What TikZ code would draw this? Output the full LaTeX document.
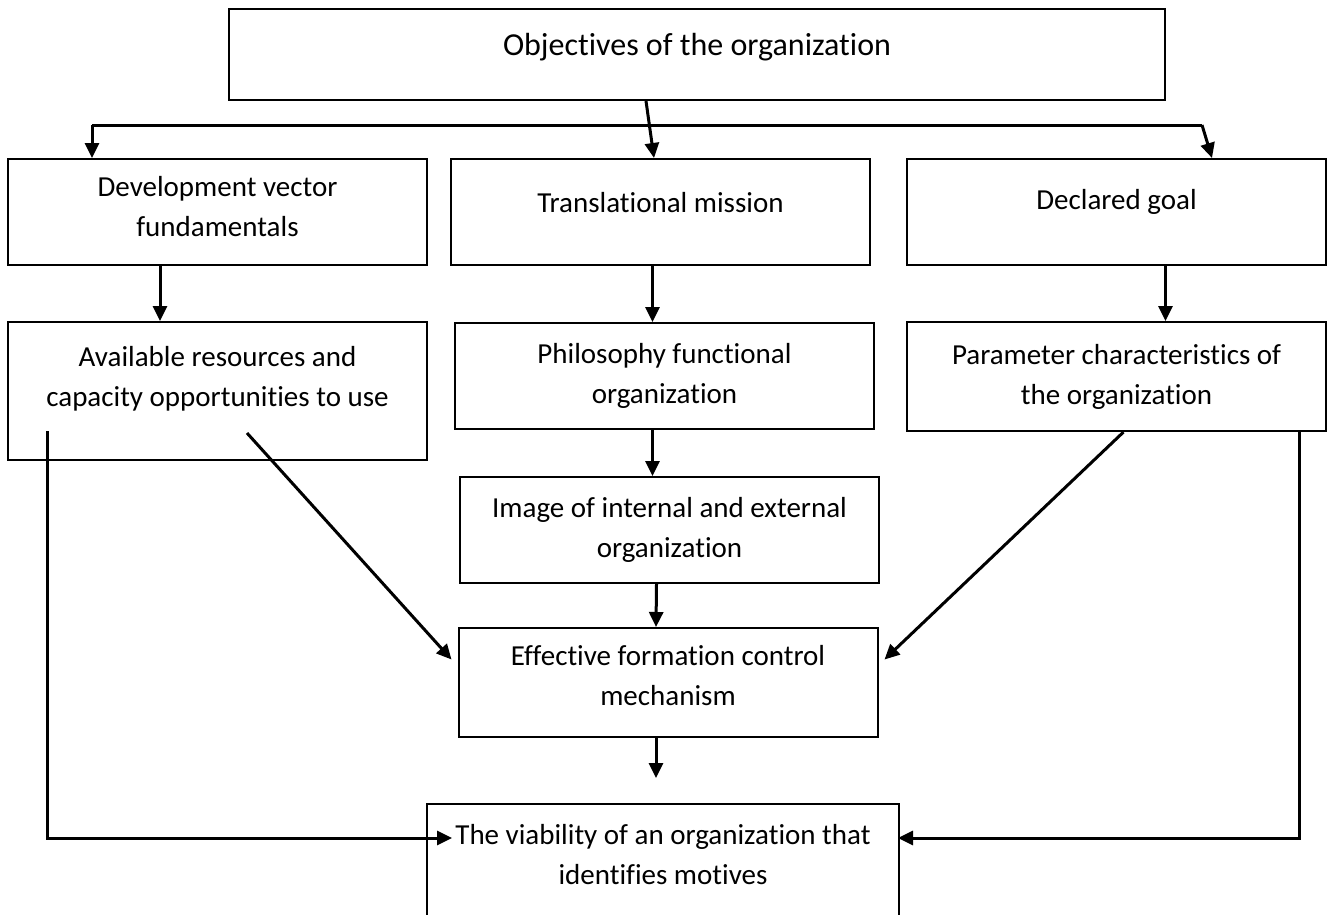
\documentclass[tikz,border=0pt]{standalone}
\usepackage{fontspec}
\setmainfont{Carlito}[Ligatures=NoCommon]
\usetikzlibrary{arrows.meta, calc, positioning}

\begin{document}
\begin{tikzpicture}[x=1pt, y=-1pt, >={Triangle[length=15pt,width=14pt]},
  box/.style={draw, line width=2pt, align=center, inner sep=0pt,
    minimum width=419pt, minimum height=106pt, font=\fontsize{29}{40}\selectfont},
  link/.style={->, line width=3pt}]
\useasboundingbox (0,0) rectangle (1330,914);

\node[box, minimum width=936pt, minimum height=91pt, text depth=20pt, font=\fontsize{32}{40}\selectfont] (obj) at (697,54.5) {Objectives of the organization};

\node[box, text depth=12pt] (dev) at (217.5,212) {Development vector\\fundamentals};
\node[box, text depth=20pt, right=22pt of dev] (mission) {Translational mission};
\node[box, text depth=26pt, right=35pt of mission] (goal) {Declared goal};

\node[box, minimum height=138pt, text depth=30pt, below=55pt of dev] (res) {Available resources and\\capacity opportunities to use};
\node[box, below=56pt of mission, xshift=4pt] (phil) {Philosophy functional\\organization};
\node[box, minimum height=109pt, below=55pt of goal] (param) {Parameter characteristics of\\the organization};

\node[box, below=46pt of phil, xshift=5pt] (image) {Image of internal and external\\organization};
\node[box, minimum height=109pt, text depth=14pt, below=43pt of image, xshift=-1.5pt] (eff) {Effective formation control\\mechanism};
\node[box, minimum width=472pt, minimum height=112pt, text depth=12pt, below=65pt of eff, xshift=-5pt] (viab) {The viability of an organization that\\identifies motives};

% branch under the top box
\coordinate (hl) at (92,125);
\coordinate (hr) at (1202,125);
\draw[line width=3pt] (hl) -- (hr);
\draw[link] (hl) -- (hl |- dev.north);
\draw[link] ($(obj.south west)+(418,0)$) -- ($(mission.north west)+(204,0)$);
\draw[link] (hr) -- ($(goal.north west)+(306,0)$);

\draw[link] ($(dev.south west)+(153,0)$) -- ($(res.north west)+(153,0)$);
\draw[link] ($(mission.south)+(-8,0)$) -- ($(phil.north)+(-12,0)$);
\draw[link] ($(goal.south)+(49,0)$) -- ($(param.north)+(49,0)$);
\draw[link] ($(phil.south)+(-12,0)$) -- ($(image.north)+(-17,0)$);
\draw[link] ($(image.south)+(-13,0)$) -- ($(eff.north)+(-12,0)$);

\coordinate (effend) at ($(eff.south)+(-12,40)$);
\draw[link] ($(eff.south)+(-12,0)$) -- (effend);

% side connections
\draw[link] ($(res.south west)+(240,-28)$) -- ($(eff.west)+(-6,-23)$);
\draw[link] ($(param.south)+(7,0)$) -- ($(eff.east)+(6,-23)$);
\draw[link] ($(res.south west)+(40,-30)$) |- ($(viab.west)+(26,-22)$);
\draw[link] ($(param.south east)+(-28,0)$) |- ($(viab.east)+(-2,-22)$);
\end{tikzpicture}
\end{document}
